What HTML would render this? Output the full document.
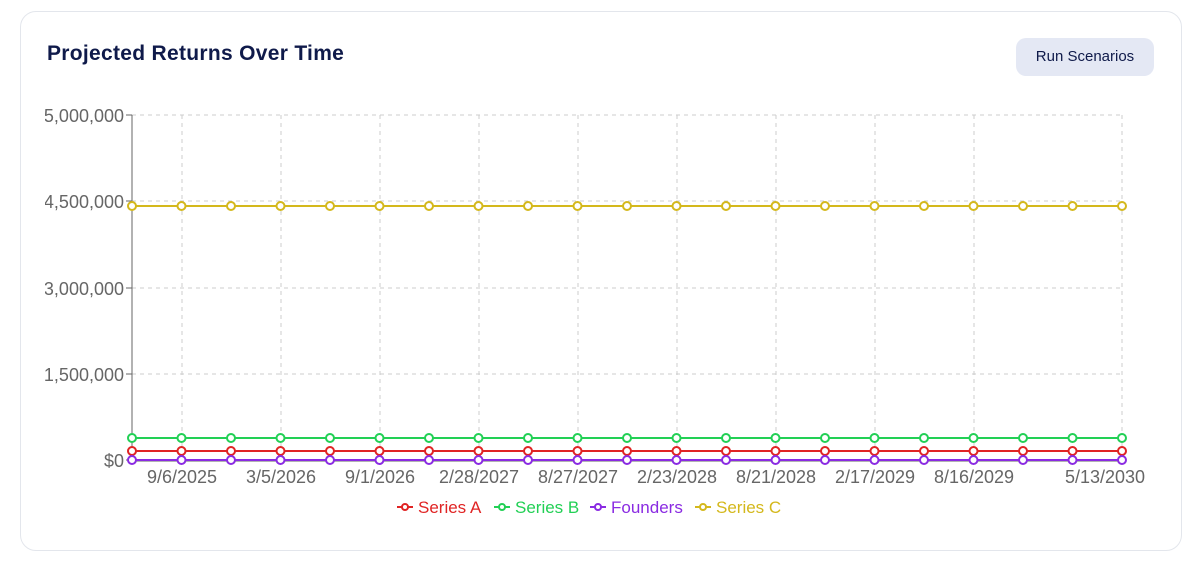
<!DOCTYPE html>
<html><head><style>
body{margin:0;background:#fff;font-family:"Liberation Sans",sans-serif;}
.card{position:absolute;left:20px;top:11px;width:1162px;height:540px;border:1px solid #e3e6ec;border-radius:16px;box-sizing:border-box;}
.title{position:absolute;left:47px;top:42px;font-size:21px;font-weight:bold;color:#0f1a4a;letter-spacing:0.3px;}
.btn{position:absolute;left:1016px;top:38px;width:138px;height:38px;background:#e4e8f4;border-radius:10px;font-size:15px;color:#0f1a4a;text-align:center;line-height:38px;}
</style></head><body>
<div class="card"></div>
<div class="title">Projected Returns Over Time</div>
<div class="btn">Run Scenarios</div>
<svg width="1200" height="571" style="position:absolute;left:0;top:0" font-family="Liberation Sans, sans-serif">
<defs><clipPath id="cl"><rect x="45" y="90" width="100" height="400"/></clipPath></defs>
<g stroke="#ccc" stroke-dasharray="4 4" stroke-width="1">
<line x1="132" x2="1122" y1="115" y2="115"/><line x1="132" x2="1122" y1="201" y2="201"/><line x1="132" x2="1122" y1="288" y2="288"/><line x1="132" x2="1122" y1="374" y2="374"/>
<line x1="182" x2="182" y1="115" y2="460"/><line x1="281" x2="281" y1="115" y2="460"/><line x1="380" x2="380" y1="115" y2="460"/><line x1="479" x2="479" y1="115" y2="460"/><line x1="578" x2="578" y1="115" y2="460"/><line x1="677" x2="677" y1="115" y2="460"/><line x1="776" x2="776" y1="115" y2="460"/><line x1="875" x2="875" y1="115" y2="460"/><line x1="974" x2="974" y1="115" y2="460"/><line x1="1122" x2="1122" y1="115" y2="460"/>
</g>
<line x1="132" x2="132" y1="115" y2="461" stroke="#666"/>
<line x1="132" x2="1122" y1="461" y2="461" stroke="#666"/>
<g stroke="#666"><line x1="126" x2="132" y1="115" y2="115"/><line x1="126" x2="132" y1="201" y2="201"/><line x1="126" x2="132" y1="288" y2="288"/><line x1="126" x2="132" y1="374" y2="374"/><line x1="126" x2="132" y1="460" y2="460"/></g>
<g font-size="18" fill="#666" text-anchor="end" clip-path="url(#cl)">
<text x="124" y="122">5,000,000</text><text x="124" y="208">4,500,000</text><text x="124" y="295">3,000,000</text><text x="124" y="381">1,500,000</text><text x="124" y="467">$0</text>
</g>
<g font-size="18" fill="#666" text-anchor="middle">
<text x="182" y="483">9/6/2025</text><text x="281" y="483">3/5/2026</text><text x="380" y="483">9/1/2026</text><text x="479" y="483">2/28/2027</text><text x="578" y="483">8/27/2027</text><text x="677" y="483">2/23/2028</text><text x="776" y="483">8/21/2028</text><text x="875" y="483">2/17/2029</text><text x="974" y="483">8/16/2029</text><text x="1105" y="483">5/13/2030</text>
</g>
<g id="s" stroke-width="2" fill="#fff"></g>
<g font-size="17" text-anchor="start">
<line x1="397" x2="413" y1="507" y2="507" stroke="#e02424" stroke-width="2"/><circle cx="405" cy="507" r="3" fill="#fff" stroke="#e02424" stroke-width="2"/><text x="418" y="513" fill="#e02424">Series A</text>
<line x1="494" x2="510" y1="507" y2="507" stroke="#22d055" stroke-width="2"/><circle cx="502" cy="507" r="3" fill="#fff" stroke="#22d055" stroke-width="2"/><text x="515" y="513" fill="#22d055">Series B</text>
<line x1="590" x2="606" y1="507" y2="507" stroke="#8a2be2" stroke-width="2"/><circle cx="598" cy="507" r="3" fill="#fff" stroke="#8a2be2" stroke-width="2"/><text x="611" y="513" fill="#8a2be2">Founders</text>
<line x1="695" x2="711" y1="507" y2="507" stroke="#d4b81c" stroke-width="2"/><circle cx="703" cy="507" r="3" fill="#fff" stroke="#d4b81c" stroke-width="2"/><text x="716" y="513" fill="#d4b81c">Series C</text>
</g>
</svg>
<script>
var g=document.getElementById('s'),ns='http://www.w3.org/2000/svg';
[[206,'#d4b81c'],[438,'#22d055'],[451,'#e02424'],[460,'#8a2be2']].forEach(function(s){
var l=document.createElementNS(ns,'line');l.setAttribute('x1',132);l.setAttribute('x2',1122);l.setAttribute('y1',s[0]);l.setAttribute('y2',s[0]);l.setAttribute('stroke',s[1]);g.appendChild(l);
for(var i=0;i<21;i++){var c=document.createElementNS(ns,'circle');c.setAttribute('cx',132+i*49.5);c.setAttribute('cy',s[0]);c.setAttribute('r',4);c.setAttribute('stroke',s[1]);g.appendChild(c);}
});
</script>
</body></html>
